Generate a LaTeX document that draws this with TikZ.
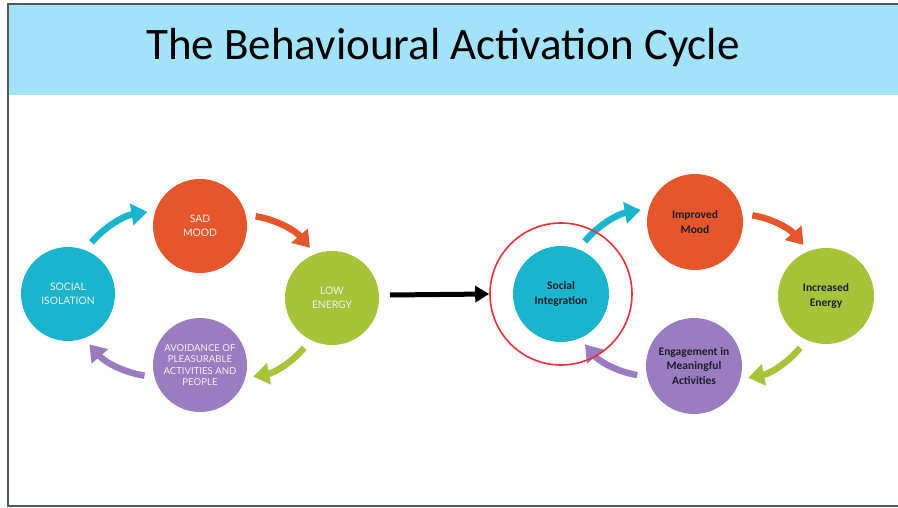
\documentclass[tikz,border=0pt]{standalone}
\usepackage{fontspec}
\setmainfont{Carlito}
\newfontfamily\capsfont{Lato}
\usetikzlibrary{arrows.meta}

\definecolor{bandblue}{HTML}{A3E3FA}
\definecolor{cyc}{HTML}{1AB4CC}
\definecolor{orc}{HTML}{E5562C}
\definecolor{grc}{HTML}{A6C43A}
\definecolor{puc}{HTML}{9A7DC1}
\definecolor{framegray}{HTML}{505858}
\definecolor{inkdark}{HTML}{1E1E2A}
\definecolor{ringred}{HTML}{E8303A}

\tikzset{
  stage/.style={circle, minimum size=94pt, inner sep=0pt, align=center},
  leftstage/.style={stage, text=white!94!black, font=\capsfont\fontsize{10.3}{14.5}\selectfont},
  rightstage/.style={stage, minimum size=96pt, text=inkdark, font=\bfseries\fontsize{11.5}{14.5}\selectfont},
  flow/.style={line width=6.5pt, -{Triangle[length=16pt,width=21pt]}, bend left=20, shorten <=10pt, shorten >=8pt},
}

\begin{document}
\begin{tikzpicture}[x=1pt, y=-1pt]
  \useasboundingbox (0,0) rectangle (898,508);
  \clip (0,0) rectangle (898,508);

  % header band and frame
  \fill[bandblue] (9,5) rectangle (898,95);
  \draw[framegray, line width=2pt] (8,4) rectangle (910,506);
  \node (title) at (443,48) {\fontsize{45}{54}\selectfont The Behavioural Activation Cycle};

  % vicious cycle
  \node[leftstage, fill=orc] (sad) at (200,226) {SAD\\MOOD};
  \node[leftstage, fill=grc] (low) at (332,298) {LOW\\ENERGY};
  \node[leftstage, fill=puc, font=\capsfont\fontsize{9.6}{11.3}\selectfont] (avoid) at (200,365) {AVOIDANCE OF\\PLEASURABLE\\ACTIVITIES AND\\PEOPLE};
  \node[leftstage, fill=cyc] (iso) at (68,294) {SOCIAL\\ISOLATION};

  \draw[flow, cyc] (iso.69) to (sad.161);
  \draw[flow, orc] (sad.14) to (low.111);
  \draw[flow, grc] (low.243) to (avoid.-16);
  \draw[flow, puc] (avoid.195) to (iso.290);

  % activation cycle
  \node[rightstage, fill=cyc] (integ) at (561,294) {Social\\Integration};
  \node[rightstage, fill=orc] (impr) at (695,222) {Improved\\Mood};
  \node[rightstage, fill=grc] (incr) at (826,296) {Increased\\Energy};
  \node[rightstage, fill=puc] (engage) at (694,366) {Engagement in\\Meaningful\\Activities};

  \draw[flow, cyc] (integ.69) to (impr.164);
  \draw[flow, orc] (impr.10) to (incr.111);
  \draw[flow, grc] (incr.246) to (engage.-16);
  \draw[flow, puc] (engage.193) to (integ.293);

  % highlight ring and transition arrow
  \node[circle, draw=ringred, line width=1.6pt, minimum size=142pt, inner sep=0pt] (ring) at (integ) {};
  \coordinate (feed) at (390,295);
  \draw[line width=5pt, -{Triangle[length=14pt,width=16pt]}] (feed) -- (ring.west);
\end{tikzpicture}
\end{document}
